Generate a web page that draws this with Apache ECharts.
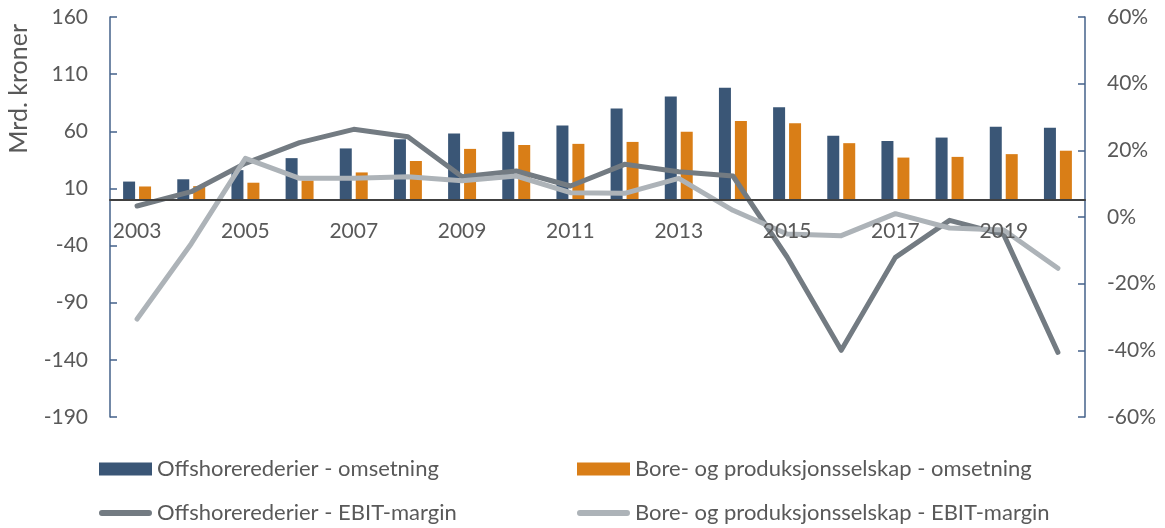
<!DOCTYPE html>
<html>
<head>
<meta charset="utf-8">
<script src="https://cdn.jsdelivr.net/npm/echarts@6/dist/echarts.min.js"></script>
<style>html,body{margin:0;padding:0;background:#fff}#c{width:1165px;height:528px}</style>
</head>
<body>
<div id="c"></div>
<script>
var years = ['2003','2004','2005','2006','2007','2008','2009','2010','2011','2012','2013','2014','2015','2016','2017','2018','2019','2020'];
var offshoreRevenue = [16,18,26,36.5,45,53,58,59.5,65,80,90.5,98,81,56,51.5,54.5,64,63];
var drillingRevenue = [11.7,12,15,17,24,34,44.6,48,49,50.7,59.5,69,67,49.6,37,37.6,40,43];
var offshoreMargin = [3.3,7.6,16.1,22.3,26.3,24.1,12.1,13.8,9.3,15.8,13.6,12.3,-12,-40,-12.1,-1,-5.3,-40.6];
var drillingMargin = [-30.6,-8,17.6,11.6,11.6,12.1,10.9,12.3,7.3,7.1,11.6,2,-5.1,-5.6,1,-3.3,-3.9,-15.4];
var leftTicks = {min:-190, max:160, interval:50};
var rightTicks = {min:-60, max:60, interval:20};
var names = ['Offshorerederier - omsetning','Bore- og produksjonsselskap - omsetning','Offshorerederier - EBIT-margin','Bore- og produksjonsselskap - EBIT-margin'];

var FONT = 'Lato';
var TXT = '#595959';
var AX = '#44628A';
var lineIcon = 'path://M3,0 L51,0 A3,3 0 0 1 51,6 L3,6 A3,3 0 0 1 3,0 Z';

function leg(name, left, top, icon, h){
  return {data:[{name:name, icon:icon}], left:left, top:top, itemWidth:53, itemHeight:h, itemGap:0, padding:0,
    textStyle:{fontFamily:FONT, fontSize:22, color:TXT}, selectedMode:false};
}

var chart = echarts.init(document.getElementById('c'));
// grid: plot bottom at y=417; x-axis drawn at the left axis zero (y=200)
var zeroOffset = -Math.round((0 - leftTicks.min) / (leftTicks.max - leftTicks.min) * 400);
chart.setOption({
  animation:false,
  grid:{left:110, right:80, top:17, bottom:111},
  graphic:[{type:'text', left:6, top:24, rotation:Math.PI/2,
    style:{text:'Mrd. kroner', fontFamily:FONT, fontSize:25, fill:TXT}}],
  legend:[
    leg(names[0], 99, 458, 'rect', 13),
    leg(names[1], 577, 458, 'rect', 13),
    leg(names[2], 99, 502, lineIcon, 6),
    leg(names[3], 577, 502, lineIcon, 6)
  ],
  xAxis:{type:'category', data:years, offset:zeroOffset, z:5,
    axisLine:{onZero:false, lineStyle:{color:'#404040', width:2}},
    axisTick:{show:false},
    axisLabel:{interval:1, fontFamily:FONT, fontSize:21, color:TXT, margin:21}
  },
  yAxis:[
    {type:'value', min:leftTicks.min, max:leftTicks.max, interval:leftTicks.interval,
      axisLine:{show:true, lineStyle:{color:AX, width:1.5}},
      axisTick:{show:true, inside:true, length:7, lineStyle:{color:AX, width:1.5}},
      splitLine:{show:false},
      axisLabel:{fontFamily:FONT, fontSize:21, color:TXT, margin:22}},
    {type:'value', min:rightTicks.min, max:rightTicks.max, interval:rightTicks.interval,
      axisLine:{show:true, lineStyle:{color:AX, width:1.5}},
      axisTick:{show:true, inside:true, length:7, lineStyle:{color:AX, width:1.5}},
      splitLine:{show:false},
      axisLabel:{fontFamily:FONT, fontSize:21, color:TXT, margin:22, formatter:'{value}%'}}
  ],
  series:[
    {name:names[0], type:'bar', data:offshoreRevenue, barWidth:12, barGap:'33%', itemStyle:{color:'#3A5676'}},
    {name:names[1], type:'bar', data:drillingRevenue, barWidth:12, barGap:'33%', itemStyle:{color:'#D97E17'}},
    {name:names[2], type:'line', yAxisIndex:1, data:offshoreMargin, symbol:'none',
      lineStyle:{color:'#737B82', width:5, cap:'round', join:'round'}, itemStyle:{color:'#737B82'}},
    {name:names[3], type:'line', yAxisIndex:1, data:drillingMargin, symbol:'none',
      lineStyle:{color:'#ADB3B8', width:5, cap:'round', join:'round'}, itemStyle:{color:'#ADB3B8'}}
  ]
});
</script>
</body>
</html>
